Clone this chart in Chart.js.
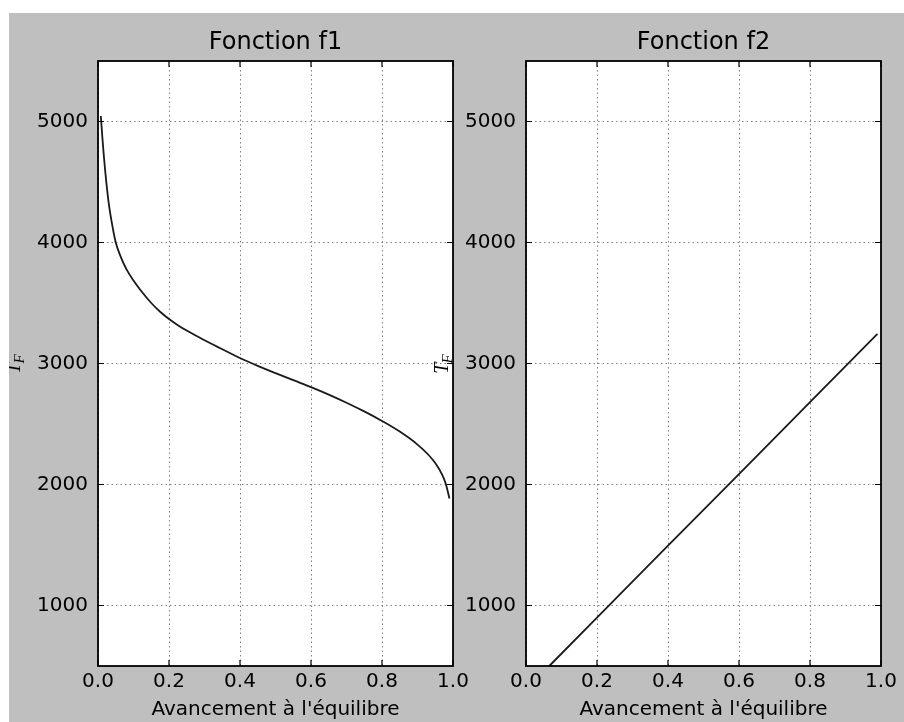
<!DOCTYPE html>
<html lang="fr">
<head>
  <meta charset="UTF-8" />
  <title>Fonctions f1 et f2</title>
  <script src="https://cdn.jsdelivr.net/npm/chart.js"></script>
  <style>
    body {
      margin: 0;
      background: #fff;
      width: 904px;
      height: 722px;
      overflow: hidden;
      position: relative;
    }
    .fond {
      position: absolute;
      left: 9px;
      top: 13px;
      width: 895px;
      height: 709px;
      background: #bfbfbf;
    }
    canvas {
      position: absolute;
      top: 13px;
    }
    #chartF1 { left: 9px; }
    #chartF2 { left: 420px; }
  </style>
</head>
<body>
  <div class="fond"></div>
  <canvas id="chartF1" width="471" height="709"></canvas>
  <canvas id="chartF2" width="484" height="709"></canvas>

  <script>
    // valeurs
    const xTicks = [0, 0.2, 0.4, 0.6, 0.8, 1.0];
    const yTicks = [1000, 2000, 3000, 4000, 5000];

    const f1X = [0.008, 0.012, 0.02, 0.03, 0.04, 0.05, 0.065, 0.08, 0.1, 0.12, 0.15, 0.175, 0.2, 0.225,
                 0.25, 0.3, 0.35, 0.4, 0.45, 0.5, 0.55, 0.6, 0.65, 0.7, 0.75, 0.8, 0.85, 0.9,
                 0.93, 0.95, 0.97, 0.98, 0.99];
    const f1Y = [5045, 4880, 4600, 4330, 4145, 4000, 3875, 3780, 3685, 3605, 3500, 3428, 3368, 3317,
                 3272, 3192, 3118, 3045, 2980, 2920, 2862, 2805, 2743, 2676, 2604, 2525, 2437, 2330,
                 2248, 2177, 2078, 2003, 1885];

    const f2X = [0.01, 0.2, 0.4, 0.6, 0.8, 0.99];
    const f2Y = [335, 900, 1495, 2085, 2680, 3245];

    const titres = ['Fonction f1', 'Fonction f2'];
    const xLabel = "Avancement à l'équilibre";
    const yLabel = ['T', 'F']; // T indice F

    Chart.defaults.font.family = "'DejaVu Sans', sans-serif";
    Chart.defaults.color = '#000';

    // fond blanc, cadre, graduations vers l'intérieur, titre de l'axe y
    const cadre = {
      id: 'cadre',
      beforeDraw(chart) {
        const { ctx, chartArea: a } = chart;
        ctx.save();
        ctx.fillStyle = '#fff';
        ctx.fillRect(a.left, a.top, a.width, a.height);
        ctx.restore();
      },
      afterDatasetsDraw(chart, args, opts) {
        const { ctx, chartArea: a, scales } = chart;
        const x = scales.x, y = scales.y;
        ctx.save();
        ctx.strokeStyle = '#000';
        ctx.lineWidth = 1.2;
        ctx.beginPath();
        x.ticks.forEach(t => {
          const px = x.getPixelForValue(t.value);
          ctx.moveTo(px, a.top); ctx.lineTo(px, a.top + 6);
          ctx.moveTo(px, a.bottom); ctx.lineTo(px, a.bottom - 6);
        });
        y.ticks.forEach(t => {
          const py = y.getPixelForValue(t.value);
          ctx.moveTo(a.left, py); ctx.lineTo(a.left + 6, py);
          ctx.moveTo(a.right, py); ctx.lineTo(a.right - 6, py);
        });
        ctx.stroke();
        ctx.lineWidth = 1.8;
        ctx.strokeRect(a.left, a.top, a.width, a.height);

        // T_F tourné
        ctx.translate(a.left + opts.labelOffset, (a.top + a.bottom) / 2);
        ctx.rotate(-Math.PI / 2);
        ctx.fillStyle = '#000';
        ctx.textBaseline = 'alphabetic';
        ctx.font = "italic 20px 'Liberation Serif'";
        const wT = ctx.measureText(yLabel[0]).width;
        ctx.font = "italic 15px 'Liberation Serif'";
        const wF = ctx.measureText(yLabel[1]).width;
        const x0 = -(wT + wF) / 2;
        ctx.font = "italic 20px 'Liberation Serif'";
        ctx.fillText(yLabel[0], x0, 0);
        ctx.font = "italic 15px 'Liberation Serif'";
        ctx.fillText(yLabel[1], x0 + wT - 1, 4);
        ctx.restore();
      }
    };

    function makeChart(id, titre, xs, ys, yWidth, padRight) {
      const ctx = document.getElementById(id).getContext('2d');
      return new Chart(ctx, {
        type: 'line',
        data: {
          datasets: [{
            data: xs.map((v, i) => ({ x: v, y: ys[i] })),
            borderColor: '#1a1a1a',
            borderWidth: 1.8,
            pointRadius: 0,
            fill: false,
            cubicInterpolationMode: 'monotone'
          }]
        },
        options: {
          responsive: false,
          devicePixelRatio: 1,
          animation: false,
          layout: { padding: { left: 0, right: padRight, top: 0, bottom: 0 } },
          plugins: {
            legend: { display: false },
            tooltip: { enabled: false },
            title: {
              display: true,
              text: titre,
              fullSize: false,
              font: { size: 24, weight: 'normal', lineHeight: 1.2 },
              color: '#000',
              padding: { top: 15.8, bottom: 3.4 }
            },
            cadre: { labelOffset: -78 }
          },
          scales: {
            x: {
              type: 'linear',
              min: 0,
              max: 1,
              afterBuildTicks: s => { s.ticks = xTicks.map(v => ({ value: v })); },
              afterFit: s => { s.height = 56; },
              ticks: {
                padding: 3.5,
                font: { size: 20, lineHeight: 1.2 },
                color: '#000',
                maxRotation: 0,
                callback: v => v.toFixed(1)
              },
              grid: {
                color: '#808080',
                lineWidth: 1,
                drawTicks: false,
                tickLength: 0
              },
              border: { display: false, dash: [1.5, 3] },
              title: {
                display: true,
                text: xLabel,
                font: { size: 20, lineHeight: 1.2 },
                color: '#000',
                padding: { top: 0, bottom: 0 }
              }
            },
            y: {
              min: 500,
              max: 5500,
              afterBuildTicks: s => { s.ticks = yTicks.map(v => ({ value: v })); },
              afterFit: s => { s.width = yWidth; },
              ticks: {
                padding: 10,
                font: { size: 20, lineHeight: 1.2 },
                color: '#000',
                callback: v => String(v)
              },
              grid: {
                color: '#808080',
                lineWidth: 1,
                drawTicks: false,
                tickLength: 0
              },
              border: { display: false, dash: [1.5, 3] }
            }
          }
        },
        plugins: [cadre]
      });
    }

    makeChart('chartF1', titres[0], f1X, f1Y, 89, 27);
    makeChart('chartF2', titres[1], f2X, f2Y, 106, 23);
  </script>
</body>
</html>
